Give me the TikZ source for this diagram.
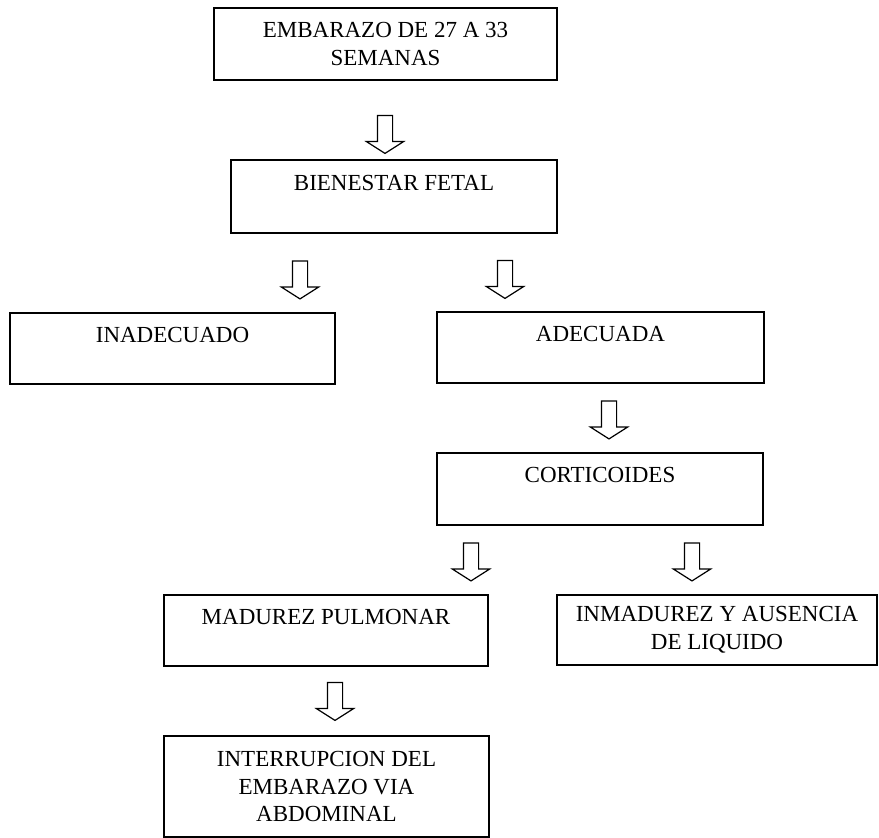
\documentclass[tikz,border=0pt]{standalone}
\usepackage{fontspec}
\setmainfont{Liberation Serif}
\usetikzlibrary{shapes.arrows}

\begin{document}
\begin{tikzpicture}[x=0.5pt,y=-0.5pt,
  caja/.style={draw,line width=0.8pt,rectangle,align=center,inner sep=0pt,
    font=\fontsize{11.5}{13.8}\selectfont},
  flecha/.style={draw,line width=0.6pt,shape=single arrow,rotate=-90,
    inner sep=3.5pt,minimum height=19pt,single arrow head extend=5.5pt,
    single arrow tip angle=115}]
\useasboundingbox (0,0) rectangle (879,838);
\node[caja,minimum width=171.5pt,minimum height=36pt] (emb) at (385.5,44) {EMBARAZO DE 27 A 33\\SEMANAS} ;
\node[caja,minimum width=163pt,minimum height=36.5pt] (bien) at (394,196.5) {BIENESTAR FETAL\\\mbox{}} ;
\node[caja,minimum width=162.5pt,minimum height=35.5pt] (inad) at (172.5,348.5) {INADECUADO\\\mbox{}} ;
\node[caja,minimum width=163.5pt,minimum height=35.5pt] (adec) at (600.5,347.5) {ADECUADA\\\mbox{}} ;
\node[caja,minimum width=163pt,minimum height=36pt] (cort) at (600,489) {CORTICOIDES\\\mbox{}} ;
\node[caja,minimum width=162pt,minimum height=35.5pt] (madur) at (326,630.5) {MADUREZ PULMONAR\\\mbox{}} ;
\node[caja,minimum width=160pt,minimum height=35pt] (inmad) at (717,630) {INMADUREZ Y AUSENCIA\\DE LIQUIDO} ;
\node[caja,minimum width=162.5pt,minimum height=50.5pt] (interr) at (326.5,786.5) {INTERRUPCION DEL\\EMBARAZO VIA\\ABDOMINAL} ;
%flechas
\node[flecha] (f1) at (385,132) {} ;
\node[flecha] (f2) at (300,277.5) {} ;
\node[flecha] (f3) at (505,277) {} ;
\node[flecha] (f4) at (609,417.5) {} ;
\node[flecha] (f5) at (471,559.5) {} ;
\node[flecha] (f6) at (692,559.5) {} ;
\node[flecha] (f7) at (335,699) {} ;
\end{tikzpicture}
\end{document}
